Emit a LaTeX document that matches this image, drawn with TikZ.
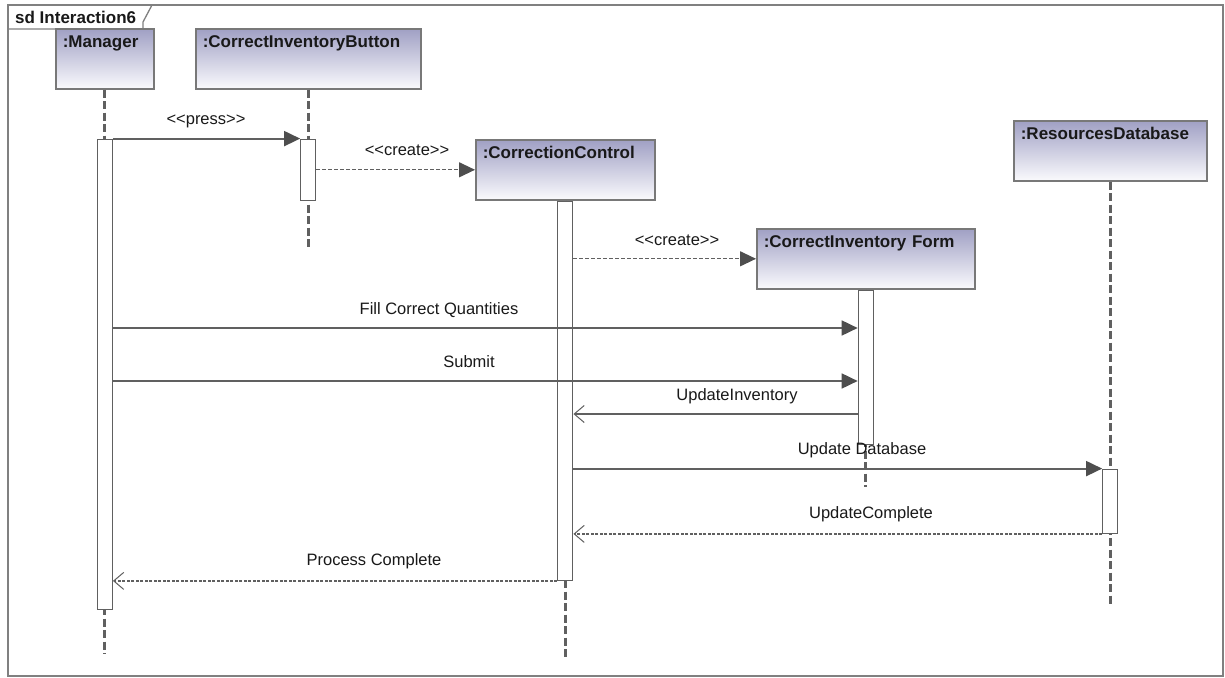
\documentclass[tikz,border=0pt]{standalone}
\usepackage{fontspec}
\setmainfont{Liberation Sans}
\usepackage{tikz}
\usetikzlibrary{arrows.meta, positioning}
\definecolor{linegray}{RGB}{96,96,96}
\definecolor{tipgray}{RGB}{78,78,78}
\definecolor{framegray}{RGB}{128,128,128}
\definecolor{boxtop}{RGB}{160,160,196}
\definecolor{boxbottom}{RGB}{250,250,253}
\definecolor{inkblack}{RGB}{25,25,25}
\newcommand{\stereo}[1]{<\kern0pt<#1>\kern0pt>}

\tikzset{
    objbox/.style={draw=linegray!85, line width=1.6pt, top color=boxtop, bottom color=boxbottom,
        anchor=north west, align=left, inner xsep=7pt, inner ysep=3pt, text height=16pt, text depth=38pt,
        text width=#1, text=inkblack, font=\fontsize{17}{19}\selectfont\bfseries},
    actbar/.style={draw=linegray, line width=1.3pt, fill=white, minimum width=15pt, inner sep=0pt, minimum height=#1},
    life/.style={linegray, line width=3pt, dash pattern=on 8pt off 3.5pt},
    call/.style={linegray, line width=1.8pt, -{Triangle[length=16pt,width=15pt,color=tipgray]}},
    newcall/.style={linegray, line width=1.2pt, dash pattern=on 4pt off 2pt, -{Triangle[length=16pt,width=15pt,color=tipgray]}},
    back/.style={linegray, line width=1.3pt, -{Straight Barb[length=10pt,width=17pt,line width=1pt]}},
    backdash/.style={back, dash pattern=on 3pt off 1.5pt},
    msg/.style={anchor=base, text=inkblack, font=\fontsize{16.5}{18}\selectfont}
}

\begin{document}
\begin{tikzpicture}[x=1pt, y=-1pt]
    \useasboundingbox (0,0) rectangle (1225,677);
    \fill[white] (0,0) rectangle (1225,677);

    % frame
    \draw[framegray, line width=1.5pt] (8,5) rectangle (1223,676);
    \draw[framegray, line width=1.3pt] (8,29) -- (143,29) -- (143,22) -- (152,5);
    \node[anchor=base west, inner sep=0pt, text=inkblack, font=\fontsize{17}{19}\selectfont\bfseries] (frameLbl) at (15,24) {sd Interaction6};

    % objects
    \node[objbox=84pt] (mgr) at (55,28) {:Manager};
    \node[objbox=211pt] (btn) at (195,28) {:CorrectInventoryButton};
    \node[objbox=165pt] (ctrl) at (475,139) {:CorrectionControl};
    \node[objbox=204pt] (form) at (756,228) {:CorrectInventory Form};
    \node[objbox=179pt] (db) at (1013,120) {:ResourcesDatabase};

    % lifelines
    \coordinate[below=564pt of mgr.south] (mgrEnd);
    \coordinate[below=157pt of btn.south] (btnEnd);
    \coordinate[below=456pt of ctrl.south] (ctrlEnd);
    \coordinate[below=197pt of form.south] (formEnd);
    \coordinate[below=422pt of db.south] (dbEnd);
    \draw[life] (mgr.south) -- (mgrEnd);
    \draw[life] (btn.south) -- (btnEnd);
    \draw[life] (ctrl.south) -- (ctrlEnd);
    \draw[life] (form.south) -- (formEnd);
    \draw[life] (db.south) -- (dbEnd);

    % activations
    \node[actbar=470pt, below=49pt of mgr.south] (mgrAct) {};
    \node[actbar=61pt, below=49pt of btn.south] (btnAct) {};
    \node[actbar=379pt, below=0pt of ctrl.south] (ctrlAct) {};
    \node[actbar=154pt, below=0pt of form.south] (formAct) {};
    \node[actbar=64pt, below=287pt of db.south] (dbAct) {};

    % message levels
    \coordinate (yFill) at (0,328);
    \coordinate (ySubmit) at (0,381);
    \coordinate (yInv) at (0,414);

    % messages
    \draw[call] (mgrAct.north east) -- (btnAct.north west);
    \draw[newcall] (btnAct.east |- ctrl.west) -- (ctrl.west);
    \draw[newcall] (ctrlAct.east |- form.west) -- (form.west);
    \draw[call] (mgrAct.east |- yFill) -- (formAct.west |- yFill);
    \draw[call] (mgrAct.east |- ySubmit) -- (formAct.west |- ySubmit);
    \draw[back] (formAct.west |- yInv) -- (ctrlAct.east |- yInv);
    \draw[call] (ctrlAct.east |- dbAct.north west) -- (dbAct.north west);
    \draw[backdash] (dbAct.south west) -- (ctrlAct.east |- dbAct.south west);
    \draw[backdash] (ctrlAct.south west) -- (mgrAct.east |- ctrlAct.south west);

    % message labels
    \node[msg] (lblPress) at (206,124) {\stereo{press}};
    \node[msg] (lblCreateA) at (407,155) {\stereo{create}};
    \node[msg] (lblCreateB) at (677,245) {\stereo{create}};
    \node[msg] (lblFill) at (439,314) {Fill Correct Quantities};
    \node[msg] (lblSubmit) at (469,367) {Submit};
    \node[msg] (lblInv) at (737,400) {UpdateInventory};
    \node[msg] (lblDb) at (862,454) {Update Database};
    \node[msg] (lblDone) at (871,518) {UpdateComplete};
    \node[msg] (lblProc) at (374,565) {Process Complete};
\end{tikzpicture}
\end{document}
